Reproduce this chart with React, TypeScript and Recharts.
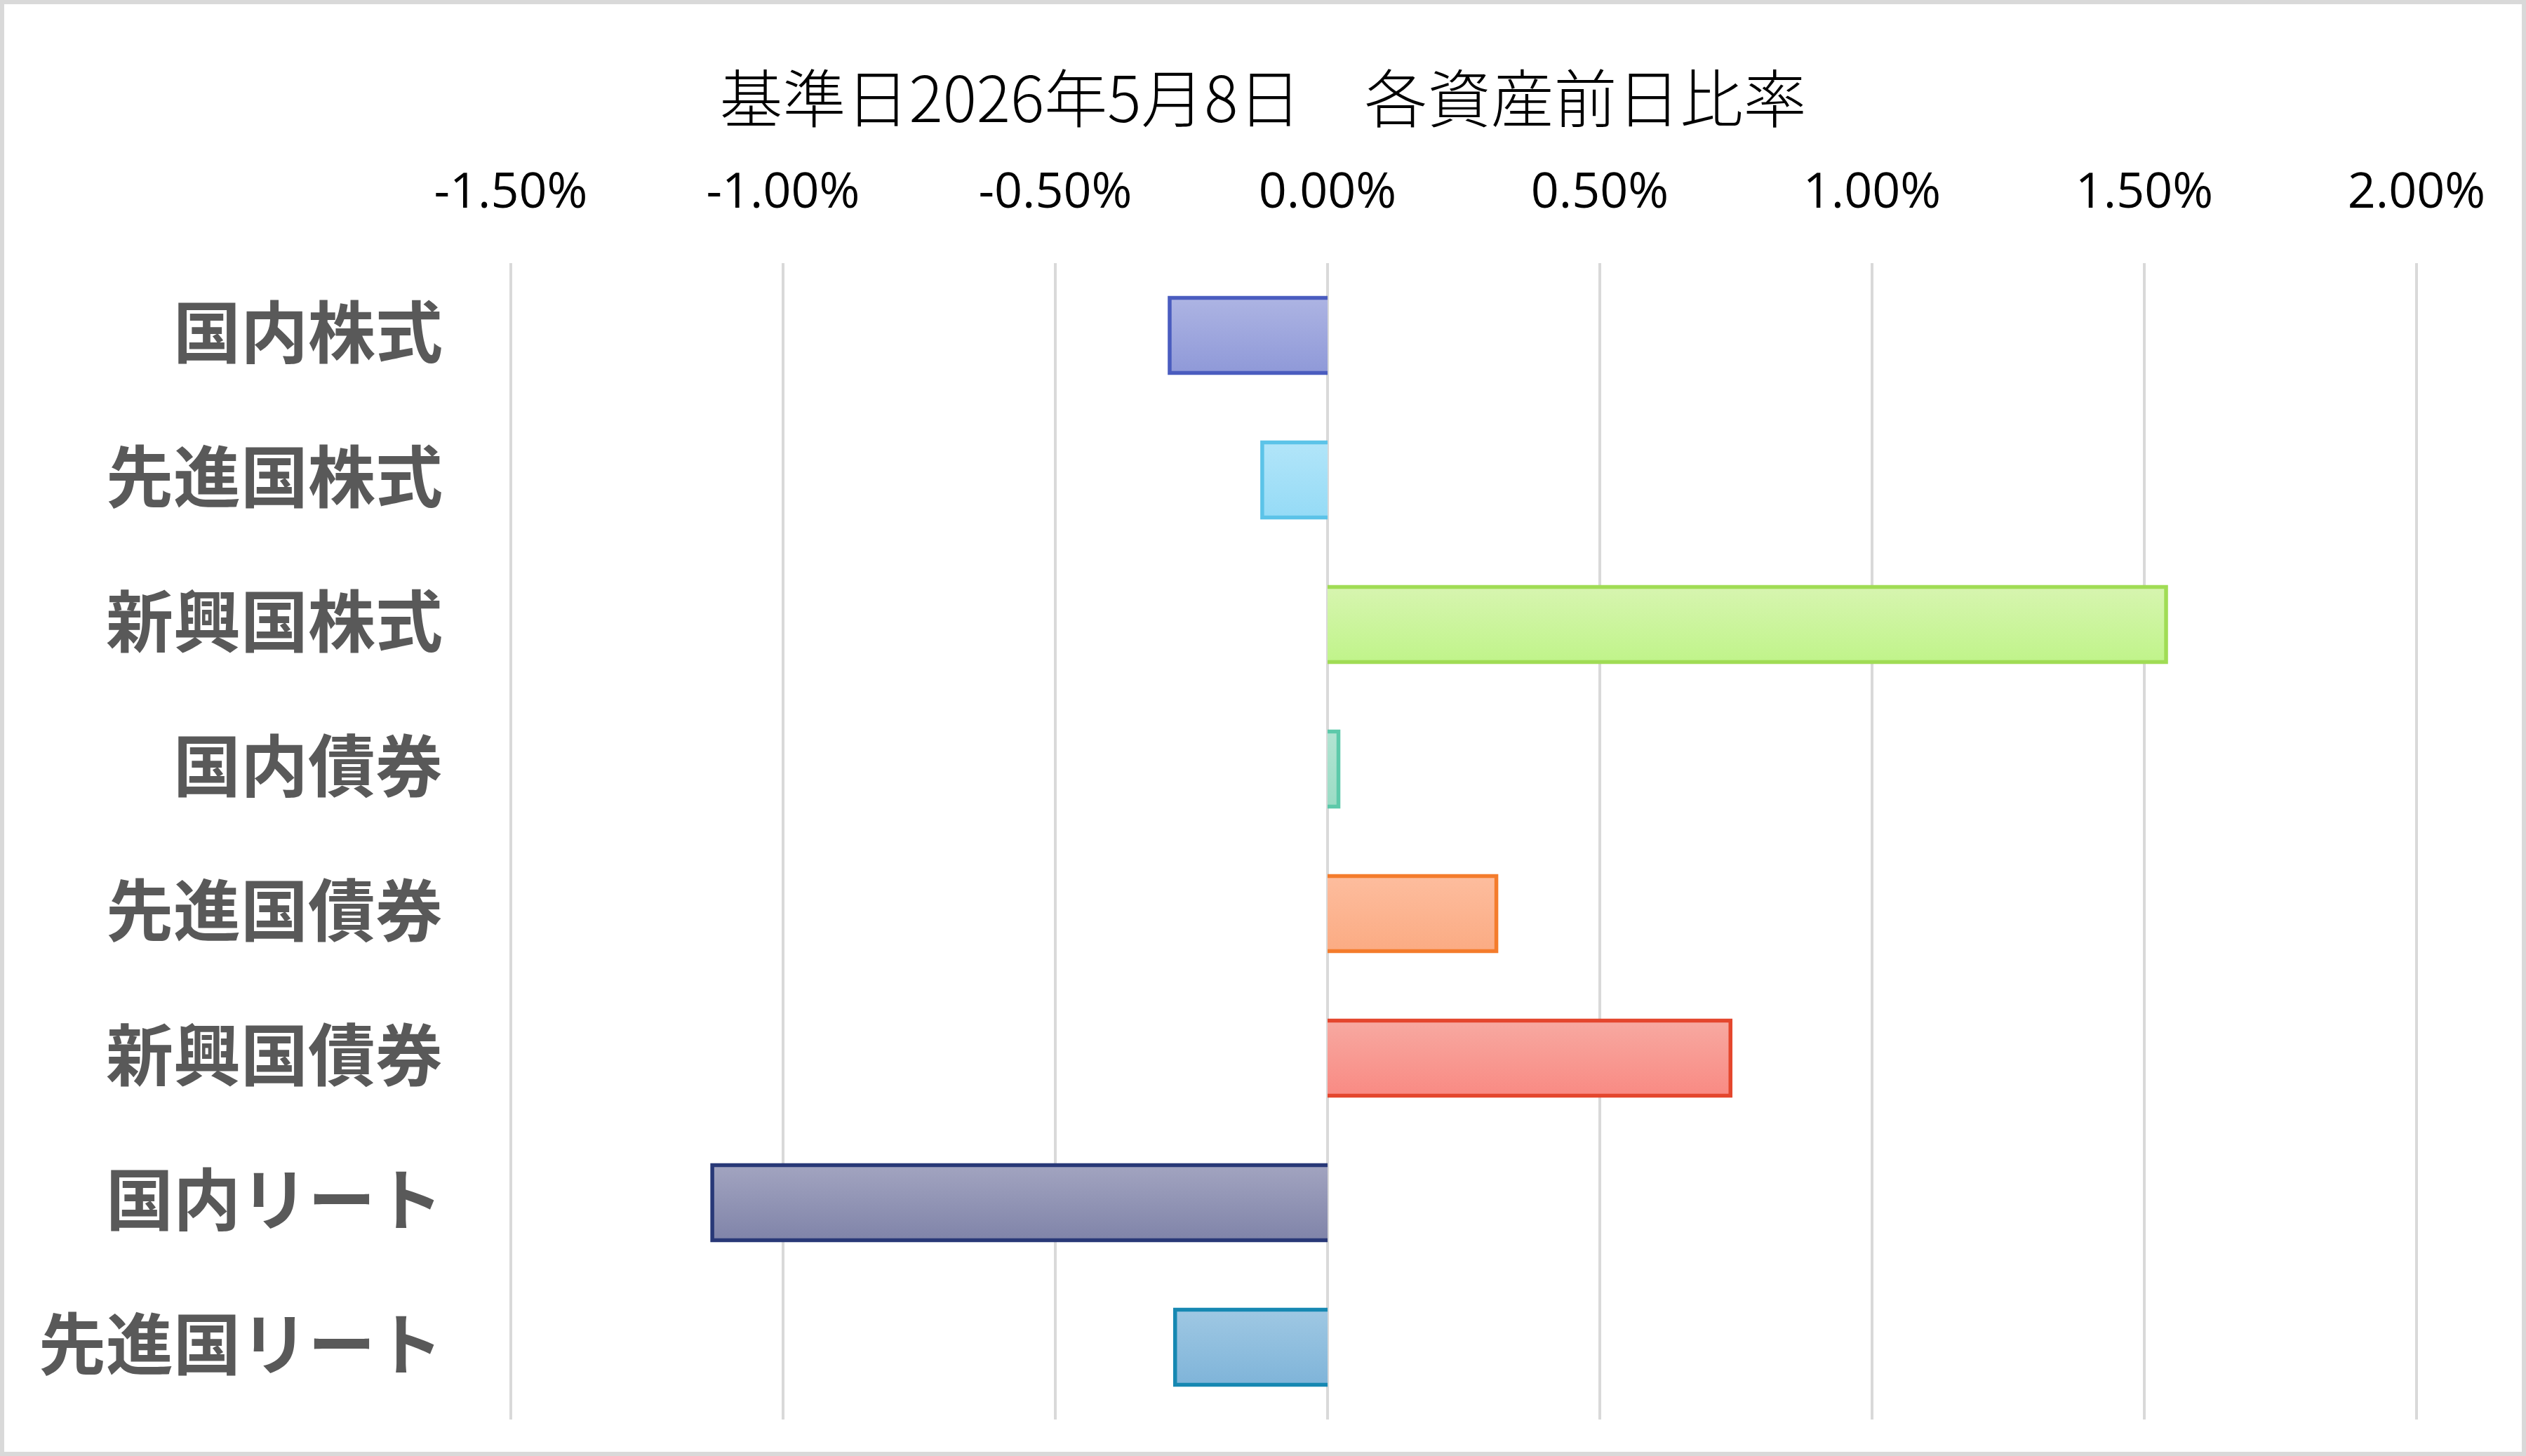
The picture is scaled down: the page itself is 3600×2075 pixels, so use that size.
import React from 'react';
import { BarChart, Bar, XAxis, YAxis, CartesianGrid } from 'recharts';

const categories = ['国内株式', '先進国株式', '新興国株式', '国内債券', '先進国債券', '新興国債券', '国内リート', '先進国リート'];
const changes = [-0.29, -0.12, 1.54, 0.02, 0.31, 0.74, -1.13, -0.28];
const tickValues = [-1.5, -1, -0.5, 0, 0.5, 1, 1.5, 2];

const fillTop = ['#adb4e3', '#b2e5f9', '#d7f5b0', '#b2e4d2', '#fdbd9e', '#f7a9a1', '#a2a4c0', '#9fc8e3'];
const fillBottom = ['#8f99d8', '#95dbf6', '#c0f48a', '#9adcc5', '#fbab83', '#f98a83', '#8084a9', '#7fb4d9'];
const strokes = ['#4a5cbf', '#5cc3e8', '#a0dc55', '#5dc9aa', '#f47c2c', '#e4462d', '#283877', '#1688b2'];

const data = categories.map((name, i) => ({ name, change: changes[i] }));

const GradientBar = (props: any) => {
  const { x, y, width, height, index, payload } = props;
  if (x == null || y == null) return null;
  const left = Math.min(x, x + width);
  const w = Math.abs(width);
  const top = Math.min(y, y + height);
  const h = Math.abs(height);
  const id = `barGrad${index}`;
  // border is open on the zero side
  const d = payload.change >= 0
    ? `M${left},${top} H${left + w} V${top + h} H${left}`
    : `M${left + w},${top} H${left} V${top + h} H${left + w}`;
  return (
    <g>
      <defs>
        <linearGradient id={id} x1="0" y1="0" x2="0" y2="1">
          <stop offset="0%" stopColor={fillTop[index]} />
          <stop offset="100%" stopColor={fillBottom[index]} />
        </linearGradient>
      </defs>
      <rect x={left} y={top} width={w} height={h} fill={`url(#${id})`} />
      <path d={d} fill="none" stroke={strokes[index]} strokeWidth={5.5} strokeLinejoin="miter" />
    </g>
  );
};

const PercentTick = (props: any) => {
  const { x, y, payload } = props;
  return (
    <text x={x} y={y} textAnchor="middle" fontFamily="'Open Sans', sans-serif" fontSize={70} fill="#000">
      {payload.value.toFixed(2)}%
    </text>
  );
};

const CategoryTick = (props: any) => {
  const { x, y, payload } = props;
  return (
    <text x={x} y={y} dy={-11} textAnchor="end" dominantBaseline="central" fontFamily="'Noto Sans CJK JP', sans-serif"
      fontWeight={700} fontSize={96} fill="#595959">
      {payload.value}
    </text>
  );
};

export default function App() {
  return (
    <div style={{ position: 'absolute', left: 0, top: 0, width: 3600, height: 2075, background: '#fff' }}>
      <div style={{
        position: 'absolute', left: 0, top: 90, width: 3600, textAlign: 'center',
        fontFamily: "'Noto Sans CJK JP', sans-serif", fontWeight: 300, fontSize: 90, lineHeight: '90px', color: '#000'
      }}>
        基準日2026年5月8日　各資産前日比率
      </div>
      <div style={{ position: 'absolute', left: 0, top: 0 }}>
        <BarChart
          width={3600}
          height={2075}
          data={data}
          layout="vertical"
          margin={{ top: 225, right: 156, bottom: 52, left: 8 }}
          barCategoryGap="24%"
        >
          <CartesianGrid horizontal={false} vertical stroke="#d9d9d9" strokeWidth={4} />
          <XAxis
            type="number"
            orientation="top"
            domain={[-1.5, 2]}
            ticks={tickValues}
            height={150}
            axisLine={false}
            tickLine={false}
            tickSize={0}
            tickMargin={79}
            tick={<PercentTick />}
          />
          <YAxis
            type="category"
            dataKey="name"
            width={720}
            axisLine={false}
            tickLine={false}
            tickSize={0}
            tickMargin={97}
            tick={<CategoryTick />}
            interval={0}
          />
          <Bar dataKey="change" isAnimationActive={false} shape={<GradientBar />} />
        </BarChart>
      </div>
      <div style={{
        position: 'absolute', left: 0, top: 0, width: 3600, height: 2075, boxSizing: 'border-box',
        border: '6px solid #d9d9d9', pointerEvents: 'none'
      }} />
    </div>
  );
}
